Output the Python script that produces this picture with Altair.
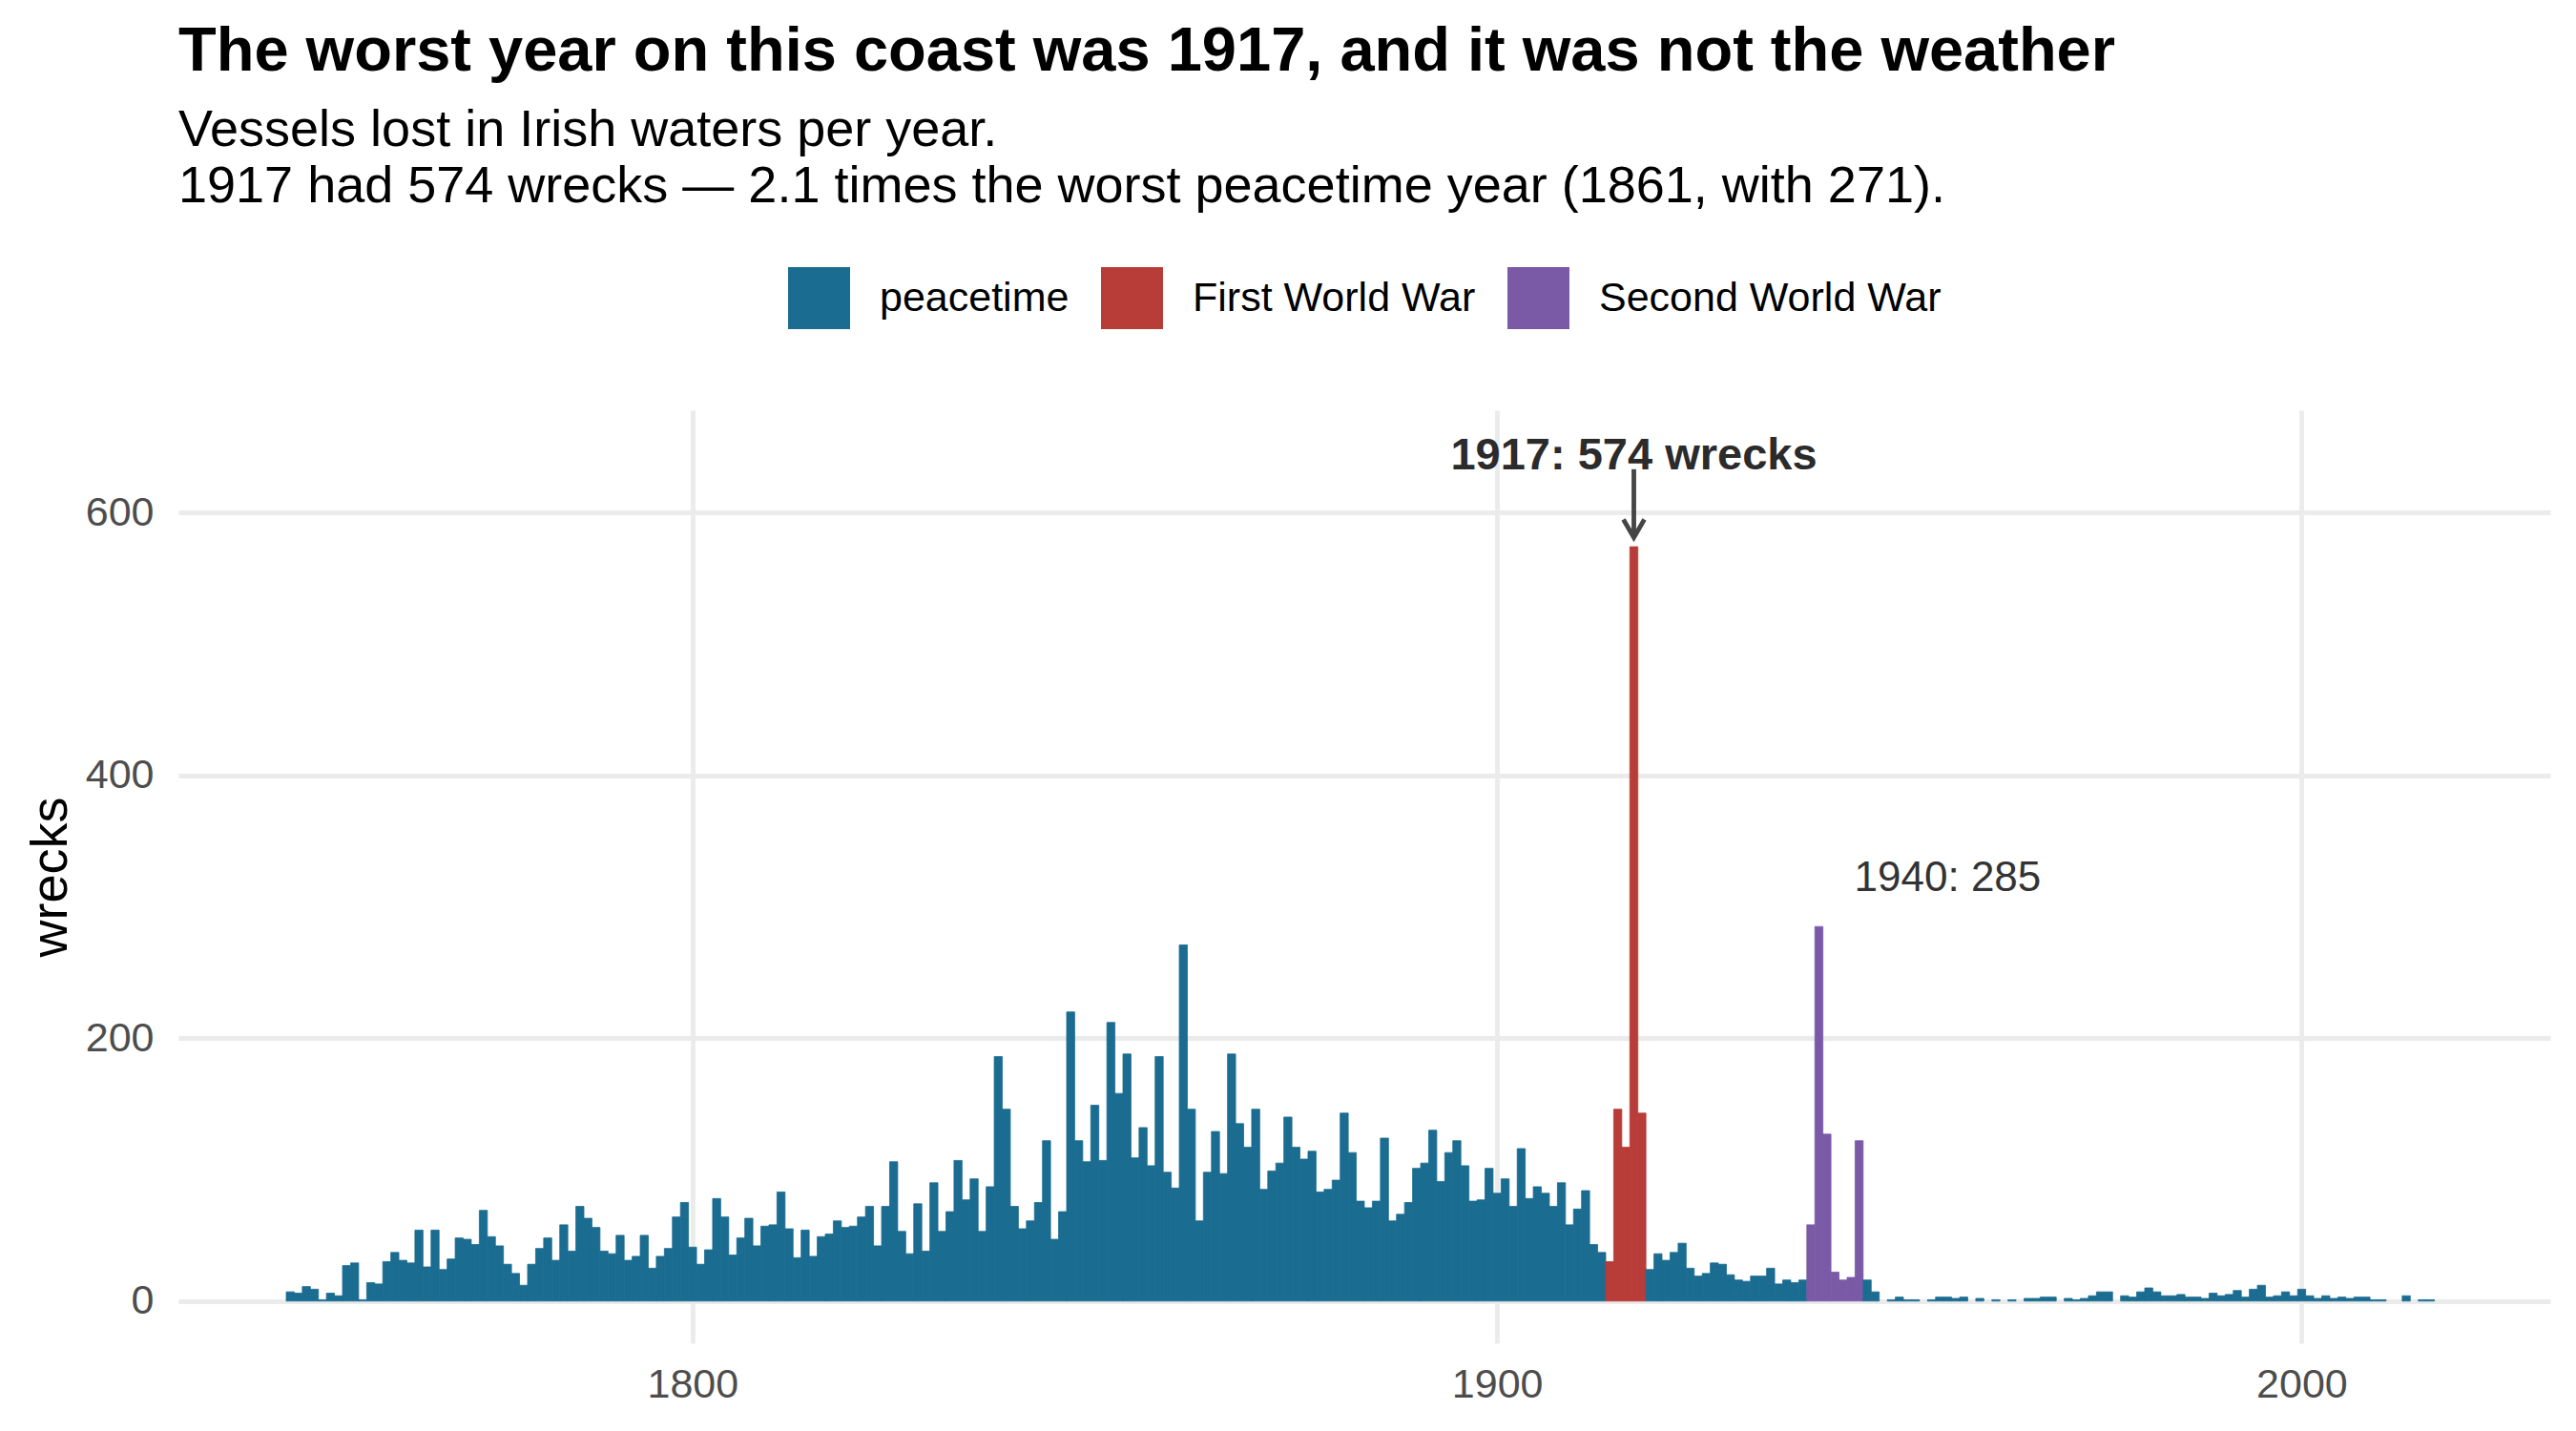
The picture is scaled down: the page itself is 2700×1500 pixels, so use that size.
import altair as alt
import pandas as pd

# ---- data ----
first_year = 1750
wrecks = [
    7, 6, 11, 9, 1, 6, 4, 27, 29, 1,            # 1750s
    14, 13, 30, 37, 31, 29, 54, 26, 54, 24,     # 1760s
    32, 48, 47, 43, 69, 49, 42, 28, 21, 12,     # 1770s
    28, 40, 48, 31, 58, 38, 72, 63, 56, 38,     # 1780s
    36, 50, 31, 34, 50, 25, 34, 40, 64, 75,     # 1790s
    41, 28, 39, 78, 64, 35, 48, 63, 42, 57,     # 1800s
    58, 83, 55, 33, 54, 34, 49, 51, 61, 56,     # 1810s
    57, 64, 72, 42, 72, 106, 53, 36, 74, 38,    # 1820s
    90, 53, 68, 107, 77, 93, 53, 87, 186, 146,  # 1830s
    72, 55, 61, 75, 122, 47, 68, 220, 122, 106, # 1840s
    149, 107, 212, 158, 188, 109, 132, 103, 186, 98,  # 1850s
    86, 271, 146, 61, 98, 129, 97, 188, 135, 117,     # 1860s
    146, 85, 99, 105, 140, 117, 108, 114, 83, 85,     # 1870s
    92, 143, 113, 76, 71, 76, 124, 61, 66, 75,        # 1880s
    101, 105, 130, 91, 113, 122, 103, 76, 77, 101,    # 1890s
    82, 93, 72, 116, 78, 87, 82, 72, 90, 58,          # 1900s
    70, 84, 43, 37, 30, 146, 117, 574, 143, 24,       # 1910s
    36, 31, 37, 44, 25, 19, 21, 29, 28, 20,           # 1920s
    16, 15, 19, 19, 25, 13, 16, 14, 16, 58,           # 1930s
    285, 127, 22, 16, 18, 122, 16, 7, 0, 1,           # 1940s
    3, 1, 1, 0, 1, 3, 3, 2, 3, 0,                     # 1950s
    2, 0, 1, 0, 1, 0, 2, 2, 3, 3,                     # 1960s
    0, 2, 1, 2, 4, 7, 7, 0, 4, 3,                     # 1970s
    7, 10, 7, 4, 4, 5, 3, 3, 2, 6,                    # 1980s
    4, 5, 8, 3, 9, 12, 3, 4, 7, 4,                    # 1990s
    9, 4, 2, 4, 2, 3, 2, 3, 3, 1,                     # 2000s
    1, 0, 0, 4, 0, 1, 1, 0,                           # 2010s
]
years = list(range(first_year, first_year + len(wrecks)))

periods = ["peacetime", "First World War", "Second World War"]
period_colors = ["#1B6C91", "#B83C37", "#7A5AA6"]
ww1 = [1914, 1918]
ww2 = [1939, 1945]

x_ticks = [1800, 1900, 2000]
y_ticks = [0, 200, 400, 600]

# annotations
ann1_year, ann1_text, ann1_y = 1917, "1917: 574 wrecks", 633
arrow_from, arrow_to = 633, 581
ann2_year, ann2_text, ann2_y = 1944.4, "1940: 285", 312

FONT = "Liberation Sans"


def period_of(y):
    if ww1[0] <= y <= ww1[1]:
        return periods[1]
    if ww2[0] <= y <= ww2[1]:
        return periods[2]
    return periods[0]


df = pd.DataFrame({"year": years, "wrecks": wrecks})
df["period"] = [period_of(y) for y in years]
df = df[df["wrecks"] > 0].reset_index(drop=True)
df["x0"] = df["year"] - 0.5
df["x1"] = df["year"] + 0.5
df["base"] = 0

xscale = alt.Scale(domain=[1736.1, 2030.9], nice=False, zero=False)
yscale = alt.Scale(domain=[-32.1, 677.9], nice=False, zero=False)

xaxis = alt.Axis(values=x_ticks, format="d", title=None, grid=True, ticks=False,
                 domain=False, labelFont=FONT, labelFontSize=43, labelColor="#4D4D4D",
                 labelPadding=22, gridColor="#EBEBEB", gridWidth=4.8)
yaxis = alt.Axis(values=y_ticks, title="wrecks", grid=True, ticks=False, domain=False,
                 labelFont=FONT, labelFontSize=43, labelColor="#4D4D4D", labelPadding=26,
                 gridColor="#EBEBEB", gridWidth=4.8,
                 titleFont=FONT, titleFontSize=54, titleColor="black", titleFontWeight="normal",
                 titleAngle=270, titleX=-134, titleY=489, titleAlign="center",
                 titleBaseline="middle")

bars = alt.Chart(df).mark_rect(strokeWidth=0.8).encode(
    x=alt.X("x0:Q", scale=xscale, axis=xaxis),
    x2="x1:Q",
    y=alt.Y("wrecks:Q", scale=yscale, axis=yaxis),
    y2="base:Q",
    color=alt.Color("period:N", scale=alt.Scale(domain=periods, range=period_colors),
                    legend=alt.Legend(title=None, orient="none", legendX=639, legendY=-150,
                                      direction="horizontal", symbolType="square",
                                      symbolSize=4225, symbolStrokeWidth=0, symbolOpacity=1,
                                      labelFont=FONT, labelFontSize=43, labelColor="black",
                                      labelOffset=31, columnPadding=33, padding=0,
                                      labelLimit=1000)),
    stroke=alt.Stroke("period:N", scale=alt.Scale(domain=periods, range=period_colors),
                      legend=None),
)

ann1 = pd.DataFrame({"year": [ann1_year], "y": [ann1_y], "label": [ann1_text],
                     "y1": [arrow_from], "y2": [arrow_to]})
ann2 = pd.DataFrame({"year": [ann2_year], "y": [ann2_y], "label": [ann2_text]})

arrow_line = alt.Chart(ann1).mark_rule(color="#454545", strokeWidth=4.8).encode(
    x=alt.X("year:Q", scale=xscale), y=alt.Y("y1:Q", scale=yscale), y2="y2:Q")
arrow_head = alt.Chart(ann1).mark_point(
    shape="M -1 -1.73 L 0 0 L 1 -1.73", size=484, filled=False, color="#454545",
    strokeWidth=4.8, opacity=1, strokeJoin="miter").encode(
    x=alt.X("year:Q", scale=xscale), y=alt.Y("y2:Q", scale=yscale))
label1 = alt.Chart(ann1).mark_text(font=FONT, fontSize=47, fontWeight="bold", color="#2B2B2B",
                                   align="center", baseline="alphabetic").encode(
    x=alt.X("year:Q", scale=xscale), y=alt.Y("y:Q", scale=yscale), text="label:N")
label2 = alt.Chart(ann2).mark_text(font=FONT, fontSize=44, color="#333333",
                                   align="left", baseline="alphabetic").encode(
    x=alt.X("year:Q", scale=xscale), y=alt.Y("y:Q", scale=yscale), text="label:N")

chart = alt.layer(bars, arrow_line, arrow_head, label1, label2).properties(
    width=2486, height=978,
    background="white",
    autosize=alt.AutoSizeParams(type="none"),
    padding={"left": 179, "top": 422, "right": 19, "bottom": 70},
    title=alt.TitleParams(
        text="The worst year on this coast was 1917, and it was not the weather",
        subtitle=["Vessels lost in Irish waters per year.",
                  "1917 had 574 wrecks \u2014 2.1 times the worst peacetime year (1861, with 271)."],
        anchor="start", frame="group", font=FONT, fontSize=65, fontWeight="bold",
        color="black", subtitleFont=FONT, subtitleFontSize=54, subtitleColor="black",
        subtitleLineHeight=59, subtitlePadding=22, offset=56),
).configure_view(strokeWidth=0, stroke="transparent")

chart.save("out.html", embed_options={"renderer": "svg", "actions": False})
